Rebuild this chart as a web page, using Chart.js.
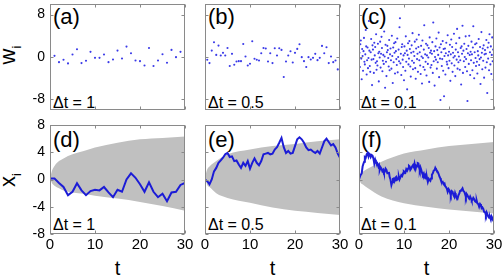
<!DOCTYPE html>
<html lang="en">
<head>
<meta charset="UTF-8">
<title>Noise and random walk panels</title>
<script src="https://cdn.jsdelivr.net/npm/chart.js"></script>
<style>
  body { margin: 0; background: #fff; }
  #wrap { position: relative; width: 503px; height: 276px; overflow: hidden;
          font-family: "Liberation Sans", Arial, sans-serif; }
  #wrap canvas { position: absolute; left: 0; top: 0; }
  .lbl { position: absolute; line-height: 1; white-space: nowrap; color: #000; }
  .panel { font-size: 22px; }
  .dt { font-size: 16px; }
  .axis { font-size: 22px; transform: translate(-50%, -50%) rotate(-90deg); }
  .axis sub { font-size: 13px; }
  .tl { font-size: 20px; transform: translateX(-50%); }
</style>
</head>
<body>
<div id="wrap">
  <div class="lbl axis" style="left:10px; top:55px;">w<sub>i</sub></div>
  <div class="lbl axis" style="left:10px; top:180px;">x<sub>i</sub></div>

  <div class="lbl panel" style="left:53px; top:6px;">(a)</div>
  <div class="lbl panel" style="left:208px; top:6px;">(b)</div>
  <div class="lbl panel" style="left:361px; top:6px;">(c)</div>
  <div class="lbl panel" style="left:53px; top:129px;">(d)</div>
  <div class="lbl panel" style="left:208px; top:129px;">(e)</div>
  <div class="lbl panel" style="left:361px; top:129px;">(f)</div>

  <div class="lbl dt" style="left:53px; top:95px;">Δt = 1</div>
  <div class="lbl dt" style="left:208px; top:95px;">Δt = 0.5</div>
  <div class="lbl dt" style="left:361px; top:95px;">Δt = 0.1</div>
  <div class="lbl dt" style="left:53px; top:217px;">Δt = 1</div>
  <div class="lbl dt" style="left:208px; top:217px;">Δt = 0.5</div>
  <div class="lbl dt" style="left:361px; top:217px;">Δt = 0.1</div>

  <div class="lbl tl" style="left:117.5px; top:258px;">t</div>
  <div class="lbl tl" style="left:272.5px; top:258px;">t</div>
  <div class="lbl tl" style="left:426.5px; top:258px;">t</div>
</div>

<script>
// tick labels
const tTicks = [0, 10, 20, 30];
const wTicks = [-8, 0, 8];
const xTicks = [-8, -4, 0, 4, 8];

// top row: noise samples w_i
const wA = [0.22, -0.97, -0.53, -1.21, 0.47, 1.46, -1.15, -0.72, 0.97, -0.16,
            -0.16, 0.47, -0.97, -0.47, 1.21, -0.28, 1.96, 0.72, -0.65, -0.78,
            -1.59, 1.71, -1.71, -0.65, 0.53, -1.09, 1.34, -0.03, 0.97, 0.28];

const wB = [-0.53, -1.15, 1.21, 2.77, 0.40, 2.15, 0.28, 0.78, 0.28, 1.71,
            -1.71, 0.59, -1.46, -0.84, -0.78, -0.78, 2.46, 0.09, -1.59, -1.28,
            2.96, -0.34, -0.53, -0.65, 0.72, 1.71, 1.59, -0.84, 0.72, -1.15,
            1.65, 0.28, 1.65, 1.34, -3.77, -0.84, 0.28, 1.09, -1.03, 0.78,
            1.53, 2.40, -0.03, -0.78, -1.90, -0.03, -0.47, -0.16, 0.59, -0.59,
            -0.16, 2.09, 0.72, 1.84, -1.15, 0.09, -0.97, -0.65, -2.34, -1.78];

const wC = [0.8, -1.9, 2.4, 3.1, -0.3, -4.2, 1.5, 0.2, -2.6, 1.1,
            3.6, -0.9, -1.4, 0.5, 5.1, 2.0, -3.3, -0.6, 1.8, -2.1,
            -0.2, 6.8, 1.2, -1.7, -2.8, 0.9, 3.4, -0.5, -5.3, 2.2,
            1.4, -0.4, -3.0, 2.7, 0.3, 1.9, -1.1, 4.3, -2.4, -0.8,
            -1.6, 2.5, 0.7, -4.6, 1.0, -0.1, 2.9, -2.0, 0.6, 3.8,
            1.7, -2.7, -0.7, 0.4, -1.3, 4.8, 0.1, -5.8, 2.3, -0.9,
            -3.6, 0.9, 2.1, 1.3, -0.2, -1.8, 3.2, -2.5, 0.5, 1.6,
            -0.6, -2.2, 4.0, 0.2, -4.9, 1.8, -1.0, 2.6, 0.8, -3.1,
            2.8, 1.1, -0.4, -1.5, 3.5, -2.9, 0.0, 1.4, -0.8, 5.6,
            7.3, -1.2, 0.6, -3.4, 1.9, 2.4, -0.5, -1.9, 0.3, -4.4,
            2.0, 0.7, -2.6, 3.9, -0.9, 1.2, -6.1, 0.4, 2.6, -1.4,
            -0.3, 3.0, 1.5, -1.8, -3.7, 0.8, 2.2, -0.7, 4.5, -2.3,
            1.0, -1.1, 0.2, 2.9, -2.1, -4.1, 1.6, 3.3, -0.4, 0.6,
            -2.8, 1.9, 4.2, -0.6, 0.9, -1.6, -3.2, 2.1, 0.1, -5.0,
            3.1, -0.2, -1.9, 1.4, 6.0, -2.4, 0.5, -0.9, 2.5, -3.5,
            0.3, 2.2, -1.3, -0.1, 1.7, -4.7, 3.7, 0.8, -2.0, 1.2,
            -1.5, 0.6, 2.8, -3.0, 6.5, -0.8, 1.1, -5.4, 0.0, 2.0,
            -0.5, 3.5, -2.2, 1.3, -1.0, 0.4, 4.6, -3.8, 1.8, -0.3,
            -8.1, 2.4, 0.9, -1.7, -0.4, 3.0, -2.6, 1.5, -7.4, 0.2,
            1.6, -3.3, 0.7, 2.7, -0.9, -1.4, 4.1, 0.3, -2.1, 1.0,
            -0.7, 2.3, -4.5, 0.5, 3.3, -1.2, 1.9, -2.8, 0.8, -0.1,
            4.4, -1.6, 0.2, -3.6, 1.4, 2.6, -0.5, 5.3, -2.2, 0.9,
            -1.0, 0.1, 3.6, -2.4, -0.6, 1.7, -5.2, 2.0, 0.6, 5.9,
            -3.0, 1.2, -0.8, 2.5, 0.0, -1.9, 3.9, -0.4, 1.5, -2.7,
            -8.3, 0.7, 2.1, -1.3, 4.0, 0.4, -3.4, 1.0, -0.6, 2.9,
            0.5, -2.5, 1.8, 5.8, -1.1, -4.0, 0.9, 2.4, -0.2, -1.7,
            2.6, -0.9, -3.1, 1.1, 0.3, 3.4, -1.5, -0.4, 1.9, -5.1,
            -0.1, 4.7, 0.8, -2.3, 1.6, -0.7, 2.2, -3.9, 0.5, 1.3,
            -2.0, 0.6, 3.2, -1.0, -6.8, 1.8, -0.3, 2.7, -2.5, 4.3,
            0.9, -1.4, 2.0, -3.2, 0.4, 3.7, -0.8, 1.4, -4.3, 3.6];

// bottom row: random walks x_i
const xD = [0.15, 0.15, -0.5, -1.1, -2.3, -1.8, -0.54, -1.6, -2.3, -1.7, -1.5,
            -1.6, -1.1, -1.9, -2.6, -1.5, -1.8, 0.0, 0.9, 0.25, -0.7,
            -1.8, -0.4, -1.8, -2.6, -2.1, -3.2, -1.9, -1.8, -0.8, -0.5];

const xE = [0, -0.25, -0.7, 0, 1.2, 1.7, 2.45, 2.8, 3.2, 3.7, 3.9,
            3.3, 3.4, 2.7, 2.8, 2.2, 1.7, 2.45, 2.0, 2.7, 1.6,
            2.45, 3.1, 2.45, 2.1, 2.7, 3.7, 3.8, 3.9, 3.7, 3.8,
            4.4, 4.75, 5.4, 6.1, 4.75, 3.9, 4.2, 3.8, 3.9, 4.9,
            5.9, 6.2, 5.9, 5.4, 4.7, 4.3, 4.4, 4.1, 3.9, 4.2,
            3.8, 4.7, 5.6, 6.0, 5.5, 5.0, 5.2, 4.7, 3.8, 3.2];

const fT = [0, 0.3, 0.6, 0.8, 1, 1.15, 1.3, 1.5, 1.7, 1.9,
            2.1, 2.25, 2.4, 2.6, 2.8, 3.0, 3.2, 3.4, 3.6, 3.75,
            4.0, 4.3, 4.45, 4.6, 4.8, 5, 5.2, 5.4, 5.55, 5.7,
            5.9, 6.1, 6.3, 6.5, 6.65, 6.8, 7.0, 7.2, 7.4, 7.55,
            7.7, 7.85, 8, 8.15, 8.3, 8.5, 8.7, 8.85, 9, 9.2,
            9.4, 9.6, 9.8, 9.95, 10.1, 10.3, 10.5, 10.7, 10.9, 11.1,
            11.25, 11.4, 11.6, 11.8, 12, 12.2, 12.35, 12.6, 12.75, 12.9,
            13.05, 13.2, 13.35, 13.5, 13.65, 13.8, 14.0, 14.2, 14.4, 14.6,
            14.75, 14.9, 15.1, 15.3, 15.5, 15.7, 15.85, 16, 16.2, 16.4,
            16.6, 16.8, 16.95, 17.1, 17.3, 17.5, 17.7, 17.9, 18.05, 18.2,
            18.4, 18.6, 18.8, 19, 19.15, 19.3, 19.5, 19.7, 19.9, 20.1,
            20.25, 20.4, 20.6, 20.8, 21.0, 21.2, 21.35, 21.5, 21.7, 21.9,
            22.1, 22.3, 22.45, 22.6, 22.8, 23, 23.2, 23.4, 23.6, 23.75,
            23.9, 24.1, 24.3, 24.5, 24.7, 24.9, 25.05, 25.2, 25.4, 25.6,
            25.8, 26, 26.15, 26.3, 26.5, 26.7, 26.9, 27.1, 27.25, 27.4,
            27.6, 27.8, 28.0, 28.2, 28.35, 28.5, 28.7, 28.9, 29.1, 29.3,
            29.45, 29.6, 29.8, 30];
const fX = [0, 0.6, 0.9, 1.9, 2.35, 2.6, 3.3, 3.2, 3.7, 3.9,
            3.4, 3.8, 3.7, 3.3, 3.6, 3.5, 3.1, 2.35, 2.9, 2.6,
            2.5, 1.9, 2.1, 1.4, 1.8, 1.6, 1.2, 1.4, 1.0, 1.1,
            1.6, 1.4, 0.9, 0.9, 1.1, 0.4, 0.0, -0.8, -0.35, 0.1,
            0.15, -0.3, -0.1, 0.3, 0.4, 0.0, 0.15, 0.4, 0, 0.3,
            0.65, 0.5, 0.9, 1.2, 1.1, 1.0, 1.5, 1.3, 1.6, 2.0,
            1.9, 1.4, 1.6, 1.9, 2.1, 1.8, 2.35, 1.6, 2.0, 1.9,
            2.4, 2.35, 1.8, 1.4, 1.8, 1.5, 1.0, 0.65, 0.9, 0.4,
            0.6, 0.15, 0.3, -0.35, 0.1, -0.1, -0.2, 0.15, 0.7, 0.9,
            1.3, 1.4, 1.7, 1.5, 1.3, 1.1, 0.8, 0.4, 0.2, -0.1,
            -0.4, -0.35, -0.7, -0.6, -1.0, -1.1, -1.3, -1.8, -1.4, -1.6,
            -2.0, -2.3, -1.7, -1.8, -2.3, -2.55, -2.0, -2.3, -2.6, -2.8,
            -2.3, -2.05, -1.7, -1.6, -1.5, -1.3, -1.7, -1.8, -2.2, -2.55,
            -2.1, -2.3, -2.6, -2.8, -2.5, -2.8, -3.1, -3.0, -2.7, -2.9,
            -3.2, -3.3, -3.1, -3.5, -3.6, -4.0, -3.6, -3.8, -4.2, -4.1,
            -4.3, -4.75, -4.8, -5.2, -4.8, -5.0, -5.4, -5.6, -5.5, -5.9,
            -5.4, -5.6, -6.0, -6.2];

// grey spread band, upper / lower edge
const envTD = [0, 0.5, 1, 2, 3, 5, 7.5, 10, 15, 20, 25, 30];
const upD = [0.2, 1.4, 2.0, 2.7, 3.1, 3.7, 4.2, 4.7, 5.4, 5.9, 6.1, 6.3];
const loD = [0.2, -0.6, -0.9, -1.3, -1.6, -1.9, -2.1, -2.4, -2.8, -3.3, -3.9, -4.6];
const envTE = [0, 0.5, 1, 2.5, 5, 10, 15, 20, 25, 30];
const upE = [0.4, 1.5, 1.9, 2.7, 3.7, 4.4, 4.9, 5.2, 5.6, 5.9];
const loE = [0.4, -0.8, -1.1, -2.0, -2.7, -3.4, -4.1, -4.6, -4.9, -5.2];
const envTF = [0, 0.5, 1, 2, 5, 10, 15, 20, 25, 30];
const upF = [0, 0.9, 1.2, 1.6, 2.6, 3.8, 4.4, 4.9, 5.2, 5.5];
const loF = [0, -0.6, -0.8, -1.3, -2.5, -3.5, -4.0, -4.4, -4.7, -5.0];

const BLUE = '#1c1cd6';
const DOT = '#3a3ae8';
const GREY = '#c0c0c0';
const FONT = '"Liberation Sans", Arial, sans-serif';

const pts = (ts, vs) => vs.map((v, i) => ({ x: ts[i], y: v }));
const grid = (n, dt, start) => Array.from({ length: n }, (_, i) => (i + start) * dt);

// box with inward tick marks, like the original figure
const framePlugin = {
  id: 'frame',
  afterDraw(chart, args, opts) {
    const { ctx, chartArea: a, scales } = chart;
    const l = Math.round(a.left) + 0.5, r = Math.round(a.right) - 0.5;
    const t = Math.round(a.top) + 0.5, b = Math.round(a.bottom) - 0.5;
    ctx.save();
    ctx.strokeStyle = '#8a8a8a';
    ctx.lineWidth = 1;
    ctx.strokeRect(l, t, r - l, b - t);
    ctx.beginPath();
    opts.xt.forEach(v => {
      const px = Math.round(scales.x.getPixelForValue(v)) + 0.5;
      ctx.moveTo(px, t); ctx.lineTo(px, t + 3);
      ctx.moveTo(px, b); ctx.lineTo(px, b - 3);
    });
    opts.yt.forEach(v => {
      const py = Math.round(scales.y.getPixelForValue(v)) + 0.5;
      ctx.moveTo(l, py); ctx.lineTo(l + 3, py);
      ctx.moveTo(r, py); ctx.lineTo(r - 3, py);
    });
    ctx.stroke();
    ctx.restore();
  }
};

function makePanel(rect, datasets, yMin, yMax, yTicks, showY, showX) {
  const cv = document.createElement('canvas');
  cv.width = 503;
  cv.height = 276;
  document.getElementById('wrap').appendChild(cv);
  const yw = showY ? 32 : 0;
  const xh = showX ? 20 : 0;
  new Chart(cv, {
    type: 'line',
    data: { datasets },
    options: {
      responsive: false,
      animation: false,
      events: [],
      layout: { padding: { left: rect[0] - yw, top: rect[1], right: 503 - rect[2], bottom: 276 - rect[3] - xh } },
      plugins: {
        legend: { display: false },
        tooltip: { enabled: false },
        frame: { xt: tTicks, yt: yTicks }
      },
      scales: {
        x: {
          type: 'linear', min: 0, max: 30, display: showX,
          grid: { display: false, drawTicks: false }, border: { display: false },
          afterBuildTicks: s => { s.ticks = tTicks.map(v => ({ value: v })); },
          afterFit: s => { s.height = xh; s.paddingLeft = 0; s.paddingRight = 0; },
          ticks: { autoSkip: false, maxRotation: 0, padding: 2, color: '#000', font: { size: 15, family: FONT } }
        },
        y: {
          type: 'linear', min: yMin, max: yMax, display: showY,
          grid: { display: false, drawTicks: false }, border: { display: false },
          afterBuildTicks: s => { s.ticks = yTicks.map(v => ({ value: v })); },
          afterFit: s => { s.width = yw; s.paddingTop = 0; s.paddingBottom = 0; },
          ticks: { autoSkip: false, padding: 5, color: '#000', font: { size: 14, family: FONT } }
        }
      }
    },
    plugins: [framePlugin]
  });
}

function dots(data) {
  return { data, showLine: false, pointRadius: 1.05, pointBackgroundColor: DOT, pointBorderWidth: 0 };
}

function walk(data, up, lo) {
  return [
    { data, borderColor: BLUE, borderWidth: 2, pointRadius: 0, tension: 0 },
    { data: lo, borderWidth: 0, pointRadius: 0, fill: false, cubicInterpolationMode: 'monotone' },
    { data: up, borderWidth: 0, pointRadius: 0, fill: 1, backgroundColor: GREY, cubicInterpolationMode: 'monotone' }
  ];
}

const cols = [[50, 185], [205, 340], [359, 494]];
const topRow = [3, 110];
const botRow = [125, 234];

makePanel([cols[0][0], topRow[0], cols[0][1], topRow[1]], [dots(pts(grid(30, 1, 1), wA))], -10, 10, wTicks, true, false);
makePanel([cols[1][0], topRow[0], cols[1][1], topRow[1]], [dots(pts(grid(60, 0.5, 1), wB))], -10, 10, wTicks, false, false);
makePanel([cols[2][0], topRow[0], cols[2][1], topRow[1]], [dots(pts(grid(300, 0.1, 1), wC))], -10, 10, wTicks, false, false);

makePanel([cols[0][0], botRow[0], cols[0][1], botRow[1]],
  walk(pts(grid(31, 1, 0), xD), pts(envTD, upD), pts(envTD, loD)), -8, 8, xTicks, true, true);
makePanel([cols[1][0], botRow[0], cols[1][1], botRow[1]],
  walk(pts(grid(61, 0.5, 0), xE), pts(envTE, upE), pts(envTE, loE)), -8, 8, xTicks, false, true);
makePanel([cols[2][0], botRow[0], cols[2][1], botRow[1]],
  walk(pts(fT, fX), pts(envTF, upF), pts(envTF, loF)), -8, 8, xTicks, false, true);
</script>
</body>
</html>
